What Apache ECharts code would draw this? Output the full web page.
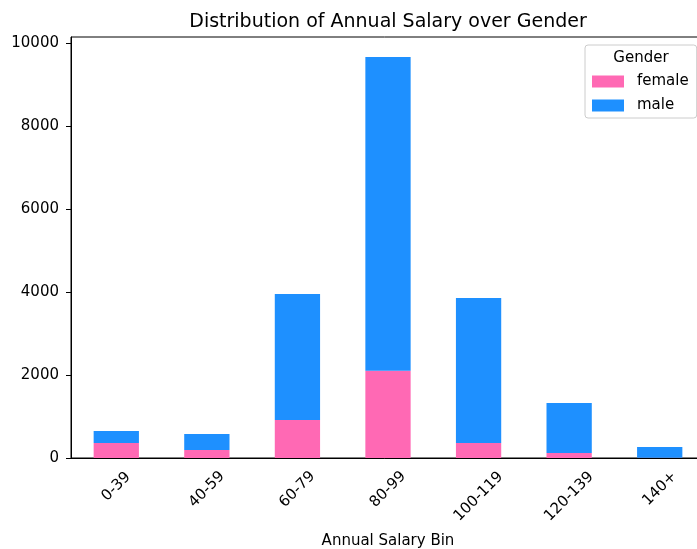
<!DOCTYPE html>
<html>
<head>
<meta charset="utf-8">
<script src="https://cdn.jsdelivr.net/npm/echarts@6/dist/echarts.min.js"></script>
<style>
  html, body { margin: 0; padding: 0; background: #fff; }
  #main { width: 697px; height: 549px; }
</style>
</head>
<body>
<div id="main"></div>
<script>
var categories = ['0-39', '40-59', '60-79', '80-99', '100-119', '120-139', '140+'];
var female = [361, 193, 916, 2100, 361, 120, 6];
var male = [289, 385, 3036, 7563, 3494, 1205, 259];
var yTicks = [0, 2000, 4000, 6000, 8000, 10000];

var FONT = 'DejaVu Sans';
var chart = echarts.init(document.getElementById('main'));

// centre each rotated tick label under its tick, like matplotlib does
var ctx = document.createElement('canvas').getContext('2d');
ctx.font = '15px "' + FONT + '"';
var rich = {};
categories.forEach(function (c, i) {
    var w = ctx.measureText(c).width;
    var d = (w + 15) / (2 * Math.SQRT2);
    var p = Math.round(d * Math.SQRT2);
    rich['l' + i] = { fontFamily: FONT, fontSize: 15, color: '#000', padding: [p, p, 0, 0] };
});

var option = {
    animation: false,
    textStyle: { fontFamily: FONT },
    title: [{
        text: 'Distribution of Annual Salary over Gender',
        left: 388, top: 13, textAlign: 'center', padding: 0,
        textStyle: { fontFamily: FONT, fontSize: 19, fontWeight: 'normal', color: '#000' }
    }, {
        text: 'Gender',
        left: 641, top: 51, textAlign: 'center', padding: 0,
        textStyle: { fontFamily: FONT, fontSize: 15, fontWeight: 'normal', color: '#000' }
    }],
    legend: {
        orient: 'vertical',
        left: 585, top: 45,
        padding: [29, 8, 5, 7],
        itemWidth: 32, itemHeight: 12, itemGap: 9,
        icon: 'rect',
        borderColor: '#cccccc', borderWidth: 1, borderRadius: 3,
        backgroundColor: 'rgba(255,255,255,0.8)',
        textStyle: { fontFamily: FONT, fontSize: 15, color: '#000', padding: [0, 0, 0, 8] },
        data: ['female', 'male']
    },
    grid: {
        left: 71, right: -8, top: 37, bottom: 91,
        outerBoundsMode: 'none', containLabel: false,
        show: true, borderColor: '#000', borderWidth: 1, backgroundColor: '#fff'
    },
    xAxis: {
        type: 'category',
        data: categories,
        name: 'Annual Salary Bin',
        nameLocation: 'middle',
        nameGap: 76,
        nameTextStyle: { fontFamily: FONT, fontSize: 15, color: '#000' },
        axisLine: { lineStyle: { color: '#000', width: 1 } },
        axisTick: { alignWithLabel: true, length: 5, lineStyle: { color: '#000' } },
        axisLabel: {
            rotate: 45, margin: 11, align: 'center', verticalAlign: 'middle',
            formatter: function (v, i) { return '{l' + i + '|' + v + '}'; },
            rich: rich
        }
    },
    yAxis: {
        type: 'value',
        min: 0, max: 10146, interval: 2000,
        splitLine: { show: false },
        axisLine: { show: true, lineStyle: { color: '#000', width: 1 } },
        axisTick: { show: true, length: 5, lineStyle: { color: '#000' }, customValues: yTicks },
        axisLabel: {
            fontFamily: FONT, fontSize: 15, color: '#000', margin: 12, customValues: yTicks,
            formatter: function (v) { return String(v); }
        }
    },
    series: [{
        name: 'female', type: 'bar', stack: 'g', barWidth: '50%',
        itemStyle: { color: '#ff69b4' },
        data: female
    }, {
        name: 'male', type: 'bar', stack: 'g', barWidth: '50%',
        itemStyle: { color: '#1e90ff' },
        data: male
    }]
};

chart.setOption(option);
</script>
</body>
</html>
